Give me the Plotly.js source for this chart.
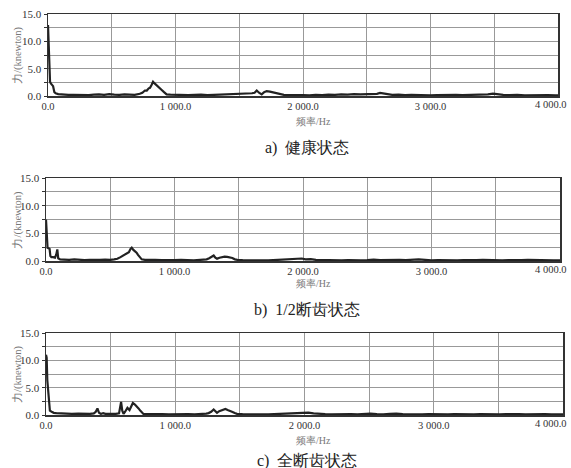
<!DOCTYPE html>
<html>
<head>
<meta charset="utf-8">
<script src="https://cdn.plot.ly/plotly-3.0.1.min.js"></script>
<style>html,body{margin:0;padding:0;background:#fff;}#chart{width:571px;height:468px;}</style>
</head>
<body>
<div id="chart"></div>
<script>
// Spectrum samples: [frequency Hz, force knewton]
var spectrumA = [[0,13.0],[4,9.5],[8,6.0],[12,3.5],[16,2.6],[22,2.3],[30,2.1],[40,1.8],[50,0.7],[60,0.5],[80,0.35],[100,0.3],[130,0.25],[160,0.2],[200,0.22],[240,0.18],[280,0.2],[320,0.15],[360,0.25],[400,0.3],[440,0.2],[480,0.35],[520,0.25],[560,0.2],[600,0.3],[640,0.25],[680,0.2],[720,0.4],[740,0.6],[760,1.0],[775,1.0],[790,1.4],[800,1.5],[812,2.0],[824,2.6],[836,2.3],[852,2.0],[870,1.6],[892,1.1],[910,0.7],[930,0.3],[960,0.25],[1000,0.2],[1050,0.2],[1100,0.15],[1150,0.2],[1200,0.25],[1250,0.15],[1300,0.2],[1350,0.15],[1400,0.2],[1450,0.25],[1500,0.3],[1540,0.35],[1570,0.4],[1600,0.5],[1620,0.6],[1637,1.0],[1655,0.6],[1676,0.3],[1695,0.7],[1715,0.9],[1740,0.8],[1765,0.65],[1790,0.5],[1815,0.3],[1850,0.2],[1900,0.15],[1950,0.2],[2000,0.15],[2050,0.1],[2100,0.2],[2150,0.15],[2200,0.25],[2250,0.2],[2300,0.3],[2350,0.25],[2400,0.35],[2450,0.3],[2500,0.35],[2540,0.3],[2580,0.4],[2604,0.55],[2630,0.45],[2660,0.3],[2700,0.2],[2750,0.25],[2800,0.15],[2850,0.2],[2900,0.15],[2950,0.2],[3000,0.1],[3050,0.15],[3100,0.2],[3150,0.15],[3200,0.2],[3250,0.15],[3300,0.2],[3350,0.25],[3400,0.2],[3450,0.3],[3490,0.45],[3530,0.3],[3570,0.2],[3620,0.15],[3680,0.2],[3740,0.1],[3800,0.15],[3860,0.1],[3920,0.15],[3980,0.1],[4000,0.1]];

var spectrumB = [[0,7.5],[4,5.5],[8,3.0],[12,2.4],[20,2.3],[28,2.2],[34,0.9],[42,0.7],[55,0.7],[70,0.6],[80,1.2],[88,2.1],[95,0.5],[110,0.3],[140,0.25],[180,0.2],[220,0.3],[260,0.2],[300,0.15],[340,0.2],[380,0.15],[420,0.2],[460,0.25],[500,0.2],[530,0.3],[555,0.4],[580,0.7],[600,1.0],[615,1.2],[630,1.5],[645,1.6],[658,2.2],[667,2.4],[680,2.0],[693,1.8],[705,1.5],[716,1.1],[730,0.7],[745,0.3],[770,0.2],[800,0.15],[850,0.2],[900,0.15],[950,0.1],[1000,0.15],[1050,0.2],[1100,0.15],[1150,0.1],[1200,0.2],[1250,0.3],[1270,0.5],[1289,0.8],[1305,1.0],[1318,0.6],[1331,0.4],[1350,0.6],[1367,0.7],[1390,0.8],[1410,0.75],[1430,0.7],[1450,0.55],[1470,0.3],[1490,0.2],[1530,0.15],[1580,0.1],[1630,0.15],[1680,0.1],[1730,0.1],[1780,0.15],[1820,0.2],[1860,0.35],[1900,0.3],[1930,0.4],[1960,0.35],[1990,0.45],[2020,0.3],[2060,0.35],[2100,0.2],[2150,0.15],[2200,0.1],[2250,0.15],[2300,0.1],[2350,0.15],[2400,0.1],[2450,0.1],[2500,0.15],[2550,0.25],[2600,0.15],[2650,0.2],[2700,0.15],[2750,0.2],[2800,0.15],[2850,0.2],[2900,0.3],[2950,0.2],[3000,0.1],[3050,0.15],[3100,0.1],[3150,0.15],[3200,0.1],[3250,0.15],[3300,0.1],[3350,0.15],[3400,0.2],[3450,0.15],[3500,0.2],[3550,0.1],[3600,0.15],[3650,0.1],[3700,0.15],[3750,0.2],[3800,0.15],[3850,0.1],[3900,0.15],[3950,0.1],[4000,0.1]];

var spectrumC = [[0,11.0],[5,10.5],[10,6.4],[16,4.5],[23,1.3],[30,0.8],[44,0.6],[60,0.4],[80,0.35],[110,0.3],[150,0.25],[200,0.2],[250,0.25],[300,0.2],[340,0.2],[370,0.3],[385,0.6],[398,1.2],[410,0.4],[425,0.2],[442,0.35],[460,0.2],[500,0.15],[540,0.2],[565,0.3],[575,1.5],[581,2.4],[590,0.8],[600,0.2],[612,0.6],[630,1.3],[646,0.9],[660,1.6],[672,2.2],[688,1.9],[703,1.6],[716,1.2],[729,0.8],[742,0.5],[754,0.2],[790,0.15],[850,0.2],[900,0.15],[950,0.1],[1000,0.15],[1050,0.1],[1100,0.15],[1150,0.1],[1200,0.15],[1240,0.25],[1258,0.35],[1278,0.6],[1297,1.0],[1310,0.7],[1323,0.4],[1340,0.7],[1355,0.8],[1370,0.9],[1388,1.1],[1405,0.9],[1420,0.8],[1439,0.6],[1460,0.35],[1478,0.2],[1520,0.15],[1570,0.1],[1620,0.15],[1670,0.1],[1720,0.1],[1770,0.15],[1820,0.2],[1870,0.35],[1910,0.3],[1950,0.4],[1990,0.35],[2030,0.45],[2070,0.3],[2110,0.2],[2160,0.15],[2210,0.1],[2260,0.15],[2310,0.1],[2360,0.15],[2410,0.1],[2460,0.15],[2510,0.25],[2560,0.15],[2610,0.1],[2660,0.2],[2710,0.25],[2760,0.15],[2810,0.1],[2860,0.15],[2910,0.1],[2960,0.15],[3010,0.1],[3060,0.15],[3110,0.1],[3160,0.15],[3210,0.1],[3260,0.15],[3310,0.1],[3360,0.15],[3410,0.1],[3460,0.15],[3510,0.1],[3560,0.15],[3610,0.2],[3660,0.15],[3710,0.1],[3760,0.15],[3810,0.1],[3860,0.15],[3910,0.1],[3960,0.15],[4000,0.1]];

var xTickVals = [0,500,1000,1500,2000,2500,3000,3500,4000];
var xTickText = ['0.0','','1 000.0','','2 000.0','','3 000.0','','4 000.0'];
var yTickVals = [0,2.5,5,7.5,10,12.5,15];
var yTickText = ['0.0','','5.0','','10.0','','15.0'];
var captions = ['a)\u00a0\u00a0健康状态','b)\u00a0\u00a01/2断齿状态','c)\u00a0\u00a0全断齿状态'];
var xTitle = '频率/Hz';
var yTitle = '力/(knewton)';

var W = 571, H = 468;
// panel boxes in pixels: left, right, top, bottom
var boxes = [[48,558,14,96],[46,560,178,261],[46,563,333,415]];
var xTitleY = [122,283,440];
var captionY = [148,310,461];
var spectra = [spectrumA, spectrumB, spectrumC];

var serif = 'Liberation Serif';
// last x tick label is placed by hand so it stays inside the page
var xTickTextAxis = xTickText.slice(0, -1).concat(['']);
var lastXLabel = xTickText[xTickText.length - 1];

var data = [], annotations = [];
var layout = {
  width: W, height: H,
  margin: {l:0, r:0, t:0, b:0},
  paper_bgcolor: '#fff', plot_bgcolor: '#fff',
  showlegend: false,
  font: {family: serif, color: '#333', size: 11}
};

spectra.forEach(function(s, i) {
  var n = i === 0 ? '' : String(i + 1);
  var b = boxes[i];
  data.push({
    x: s.map(function(p){return p[0];}),
    y: s.map(function(p){return p[1];}),
    type: 'scatter', mode: 'lines',
    line: {color: '#222', width: 2.2},
    xaxis: 'x' + n, yaxis: 'y' + n,
    hoverinfo: 'skip'
  });
  layout['xaxis' + n] = {
    domain: [b[0]/W, b[1]/W], anchor: 'y' + n,
    range: [0, 4000], tickvals: xTickVals, ticktext: xTickTextAxis,
    showgrid: true, gridcolor: '#999', gridwidth: 1,
    showline: true, linecolor: '#333', linewidth: 1.5, mirror: true,
    ticks: '', zeroline: false, ticklabeloverflow: 'allow',
    tickfont: {family: serif, size: 10.5, color: '#333'}
  };
  layout['yaxis' + n] = {
    domain: [1 - b[3]/H, 1 - b[2]/H], anchor: 'x' + n,
    range: [0, 15], tickvals: yTickVals, ticktext: yTickText,
    showgrid: true, gridcolor: '#999', gridwidth: 1,
    showline: true, linecolor: '#333', linewidth: 1.5, mirror: true,
    ticks: 'outside', ticklen: 3, tickcolor: '#333', zeroline: false,
    ticklabeloverflow: 'allow',
    tickfont: {family: serif, size: 11, color: '#333'}
  };
  annotations.push({
    text: lastXLabel, xref: 'paper', yref: 'paper',
    x: 569/W, y: 1 - (b[3] + 8)/H,
    showarrow: false, xanchor: 'right', yanchor: 'middle',
    font: {family: serif, size: 10.5, color: '#333'}
  });
  annotations.push({
    text: yTitle, xref: 'paper', yref: 'paper',
    x: 17/W, y: 1 - ((b[2]+b[3])/2)/H, textangle: -90,
    showarrow: false, xanchor: 'center', yanchor: 'middle',
    font: {family: serif, size: 10.5, color: '#777'}
  });
  annotations.push({
    text: xTitle, xref: 'paper', yref: 'paper',
    x: 313/W, y: 1 - xTitleY[i]/H,
    showarrow: false, xanchor: 'center', yanchor: 'middle',
    font: {family: serif, size: 10, color: '#777'}
  });
  annotations.push({
    text: captions[i], xref: 'paper', yref: 'paper',
    x: 307/W, y: 1 - captionY[i]/H,
    showarrow: false, xanchor: 'center', yanchor: 'middle',
    font: {family: serif, size: 16, color: '#222'}
  });
});
layout.annotations = annotations;

Plotly.newPlot('chart', data, layout, {staticPlot: true, displayModeBar: false});
</script>
</body>
</html>
